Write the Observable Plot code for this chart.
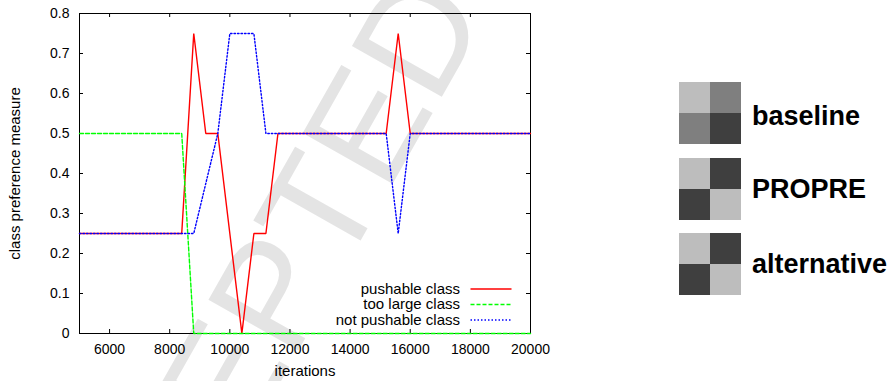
<!DOCTYPE html>
<html><head><meta charset="utf-8">
<script src="https://cdn.jsdelivr.net/npm/d3@7"></script>
<script src="https://cdn.jsdelivr.net/npm/@observablehq/plot@0.6"></script>
<style>
body{margin:0;background:#fff;}
#wrap{position:relative;width:893px;height:381px;overflow:hidden;font-family:"Liberation Sans",Arial,Helvetica,sans-serif;}
#wrap > *{position:absolute;}
</style></head><body><div id="wrap"></div>
<script>
// ---- data ----
const pushableIter = [5000, 8400, 8800, 9200, 9600, 10400, 10800, 11200, 11600, 15200, 15600, 16000, 20000];
const pushableVal  = [0.25, 0.25, 0.75, 0.5, 0.5, 0, 0.25, 0.25, 0.5, 0.5, 0.75, 0.5, 0.5];
const tooLargeIter = [5000, 8400, 8800, 20000];
const tooLargeVal  = [0.5, 0.5, 0, 0];
const notPushIter  = [5000, 8800, 9600, 10000, 10800, 11200, 15200, 15600, 16000, 20000];
const notPushVal   = [0.25, 0.25, 0.5, 0.75, 0.75, 0.5, 0.5, 0.25, 0.5, 0.5];
const seriesNames  = ["pushable class", "too large class", "not pushable class"];
const seriesColors = ["#ff0000", "#00ff00", "#0000ff"];
const seriesDash   = [null, "4,2", "1.5,2"];
const xTicks = [6000, 8000, 10000, 12000, 14000, 16000, 18000, 20000];
const yTicks = [0, 0.1, 0.2, 0.3, 0.4, 0.5, 0.6, 0.7, 0.8];
const xLabel = "iterations";
const yLabel = "class preference measure";
const patternNames = ["baseline", "PROPRE", "alternative"];
// cell order: top-left, top-right, bottom-left, bottom-right
const patternCells = [
  ["#bdbdbd", "#7f7f7f", "#7f7f7f", "#3f3f3f"],
  ["#bdbdbd", "#3f3f3f", "#3f3f3f", "#bdbdbd"],
  ["#bdbdbd", "#3f3f3f", "#3f3f3f", "#bdbdbd"]
];
const watermark = "ACCEPTED";

const FONT = "Liberation Sans, Arial, Helvetica, sans-serif";
const wrap = document.getElementById("wrap");

// ---- watermark (behind everything) ----
const wm = d3.create("svg").attr("width", 893).attr("height", 381).style("left", "0px").style("top", "0px");
wm.append("text")
  .attr("transform", "translate(87,724) rotate(-60.5)")
  .attr("font-size", 150).attr("font-family", FONT).attr("fill", "#e4e4e4")
  .text(watermark);
wrap.appendChild(wm.node());

// ---- main chart ----
const series = [
  {iter: pushableIter, val: pushableVal},
  {iter: tooLargeIter, val: tooLargeVal},
  {iter: notPushIter, val: notPushVal}
].map((s, k) => s.iter.map((x, i) => ({x, y: s.val[i], k})));

const W = 560, H = 381, mL = 79, mR = 30, mT = 13, mB = 48;
const innerW = W - mL - mR, innerH = H - mT - mB;

const chart = Plot.plot({
  width: W, height: H,
  marginLeft: mL, marginRight: mR, marginTop: mT, marginBottom: mB,
  style: {background: "transparent", fontFamily: FONT, fontSize: "14px", color: "black"},
  x: {domain: [5000, 20000]},
  y: {domain: [0, 0.8]},
  marks: [
    Plot.axisX({ticks: xTicks, tickSize: 0, tickPadding: 11, label: null, fontSize: 14, tickFormat: d => String(d)}),
    Plot.axisY({ticks: yTicks, tickSize: 0, tickPadding: 10, label: null, fontSize: 14, tickFormat: d => String(d)}),
    Plot.frame({stroke: "black", strokeWidth: 1}),
    Plot.ruleX(xTicks, {x: d => d, insetTop: innerH - 4, stroke: "black"}),
    Plot.ruleX(xTicks, {x: d => d, insetBottom: innerH - 4, stroke: "black"}),
    Plot.ruleY(yTicks, {y: d => d, insetRight: innerW - 4, stroke: "black"}),
    Plot.ruleY(yTicks, {y: d => d, insetLeft: innerW - 4, stroke: "black"}),
    ...series.map((data, k) => Plot.line(data, {
      x: "x", y: "y", stroke: seriesColors[k], strokeWidth: 1.4,
      strokeDasharray: seriesDash[k] || undefined, strokeLinejoin: "miter"
    })),
    Plot.text([xLabel], {frameAnchor: "bottom", dy: 42, text: d => d, fontSize: 15, textAnchor: "middle"}),
    Plot.text([yLabel], {frameAnchor: "left", dx: -64, rotate: -90, text: d => d, fontSize: 15, textAnchor: "middle"})
  ]
});
chart.style.left = "0px"; chart.style.top = "0px";
wrap.appendChild(chart);

// ---- line legend ----
const lg = d3.create("svg").attr("width", W).attr("height", H).style("left", "0px").style("top", "0px");
seriesNames.forEach((name, k) => {
  const by = 293.5 + k * 15.5;
  lg.append("text").attr("x", 460).attr("y", by).attr("text-anchor", "end")
    .attr("font-size", 15).attr("font-family", FONT).attr("fill", "black").text(name);
  lg.append("line").attr("x1", 470.5).attr("x2", 511.5).attr("y1", by - 4.5).attr("y2", by - 4.5)
    .attr("stroke", seriesColors[k]).attr("stroke-width", 1.4)
    .attr("stroke-dasharray", seriesDash[k] || null);
});
wrap.appendChild(lg.node());

// ---- pattern squares ----
const squareTops = [82, 158, 233];
const baselines = [124.5, 197.5, 273];
patternCells.forEach((cells, p) => {
  const data = cells.map((fill, i) => ({col: i % 2, row: Math.floor(i / 2), fill}));
  const sq = Plot.plot({
    width: 62, height: 62, margin: 0,
    style: {background: "transparent"},
    x: {domain: [0, 1], axis: null, padding: 0},
    y: {domain: [0, 1], axis: null, padding: 0},
    color: {type: "identity"},
    marks: [Plot.cell(data, {x: "col", y: "row", fill: "fill", inset: 0, shapeRendering: "crispEdges"})]
  });
  sq.style.left = "679px"; sq.style.top = squareTops[p] + "px";
  wrap.appendChild(sq);
});
const pl = d3.create("svg").attr("width", 893).attr("height", 381).style("left", "0px").style("top", "0px");
patternNames.forEach((name, p) => {
  pl.append("text").attr("x", 752).attr("y", baselines[p])
    .attr("font-size", 27).attr("font-weight", "bold").attr("font-family", FONT).attr("fill", "black").text(name);
});
wrap.appendChild(pl.node());
</script></body></html>
